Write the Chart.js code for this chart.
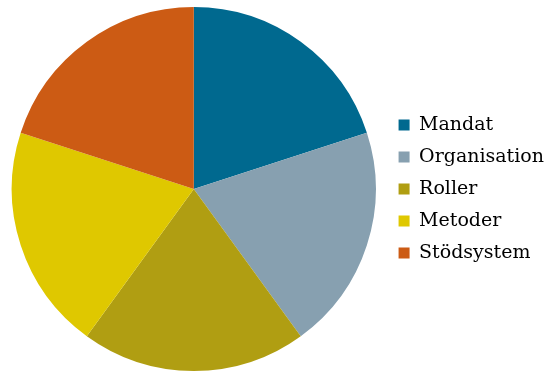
<!DOCTYPE html>
<html>
<head>
<meta charset="utf-8">
<script src="https://cdn.jsdelivr.net/npm/chart.js@4/dist/chart.umd.min.js"></script>
<style>
    html, body { margin: 0; padding: 0; background: #ffffff; }
    #wrap { width: 546px; height: 372px; position: relative; }
</style>
</head>
<body>
<div id="wrap"><canvas id="pie-chart"></canvas></div>
<script>
const categories = ['Mandat', 'Organisation', 'Roller', 'Metoder', 'Stödsystem'];
const shares = [20, 20, 20, 20, 20];
const sliceColors = ['#00698f', '#87a0b0', '#b09e12', '#dfc800', '#cc5b14'];

const pieCanvas = document.getElementById('pie-chart');

new Chart(pieCanvas, {
    type: 'pie',
    data: {
        labels: categories,
        datasets: [{
            data: shares,
            backgroundColor: sliceColors,
            borderWidth: 0
        }]
    },
    options: {
        responsive: true,
        maintainAspectRatio: false,
        animation: false,
        layout: {
            // negative right padding pushes the legend closer to the edge
            padding: { top: 7, bottom: 1, left: 2, right: -8 }
        },
        plugins: {
            legend: {
                position: 'right',
                labels: {
                    boxWidth: 11,
                    boxHeight: 11,
                    padding: 13,
                    color: '#000000',
                    font: { family: '"DejaVu Serif", serif', size: 19 }
                }
            },
            tooltip: { enabled: false }
        }
    }
});
</script>
</body>
</html>
